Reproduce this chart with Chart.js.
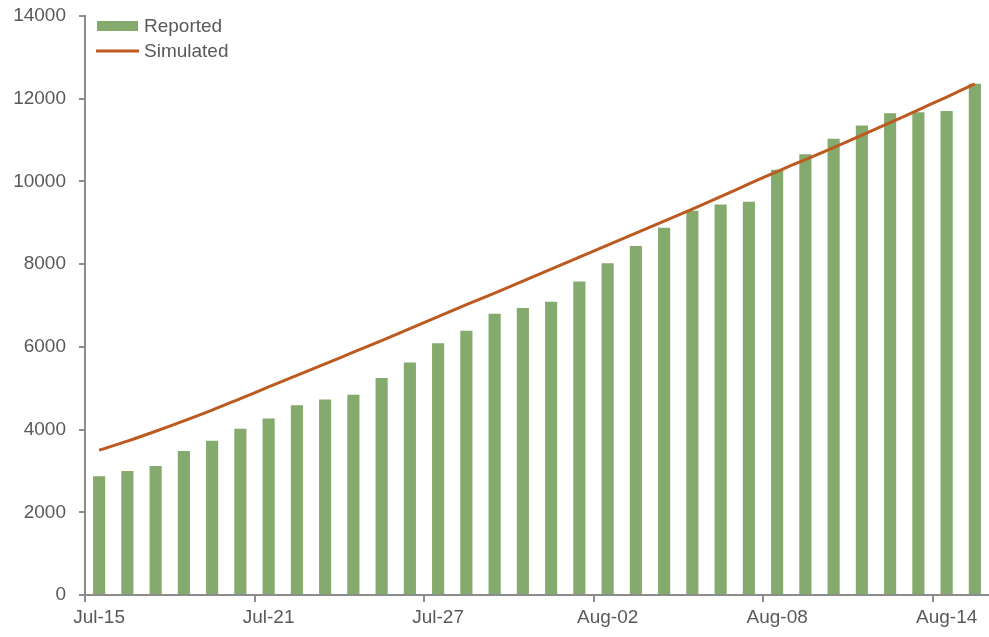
<!DOCTYPE html>
<html>
<head>
<meta charset="utf-8">
<script src="https://cdn.jsdelivr.net/npm/chart.js@4"></script>
<style>
  html, body { margin: 0; padding: 0; background: #fff; }
  #wrap { width: 989px; height: 637px; }
</style>
</head>
<body>
<div id="wrap"><canvas id="chart"></canvas></div>
<script>
const days = [
  'Jul-15', 'Jul-16', 'Jul-17', 'Jul-18', 'Jul-19', 'Jul-20', 'Jul-21', 'Jul-22',
  'Jul-23', 'Jul-24', 'Jul-25', 'Jul-26', 'Jul-27', 'Jul-28', 'Jul-29', 'Jul-30',
  'Jul-31', 'Aug-01', 'Aug-02', 'Aug-03', 'Aug-04', 'Aug-05', 'Aug-06', 'Aug-07',
  'Aug-08', 'Aug-09', 'Aug-10', 'Aug-11', 'Aug-12', 'Aug-13', 'Aug-14', 'Aug-15'
];
const reported = [
  2870, 3000, 3120, 3480, 3730, 4020, 4270, 4590, 4730, 4840, 5250, 5620, 6090, 6390, 6800, 6940,
  7090, 7580, 8020, 8440, 8880, 9290, 9440, 9510, 10280, 10660, 11030, 11350, 11650, 11670, 11700, 12360
];
const simulated = [
  3500, 3720, 3960, 4210, 4470, 4750, 5030, 5310, 5590, 5870, 6150, 6440, 6730, 7020, 7300, 7590,
  7880, 8170, 8460, 8750, 9040, 9330, 9630, 9940, 10240, 10530, 10820, 11120, 11420, 11730, 12040, 12360
];
const yTicks = [0, 2000, 4000, 6000, 8000, 10000, 12000, 14000];

const textColor = '#595959';
const axisColor = '#8c8c8c';
const font = { family: 'Liberation Sans, Arial, sans-serif', size: 19 };

// legend drawn inside the plot, top left
const insideLegend = {
  id: 'insideLegend',
  afterDraw(chart) {
    const c = chart.ctx;
    const x = chart.chartArea.left + 12;
    c.save();
    c.font = font.size + 'px ' + font.family;
    c.textBaseline = 'middle';
    chart.data.datasets.forEach((ds, i) => {
      const y = 26 + i * 25;
      if (ds.type === 'line') {
        c.strokeStyle = ds.borderColor;
        c.lineWidth = 3;
        c.beginPath();
        c.moveTo(x - 1, y);
        c.lineTo(x + 42, y);
        c.stroke();
      } else {
        c.fillStyle = ds.backgroundColor;
        c.fillRect(x, y - 5, 41, 10);
      }
      c.fillStyle = textColor;
      c.fillText(ds.label, x + 47, y + 1);
    });
    c.restore();
  }
};

new Chart(document.getElementById('chart'), {
  data: {
    labels: days,
    datasets: [
      {
        type: 'bar',
        label: 'Reported',
        data: reported,
        backgroundColor: '#84aa6d',
        barPercentage: 0.43,
        categoryPercentage: 1,
        order: 1
      },
      {
        type: 'line',
        label: 'Simulated',
        data: simulated,
        borderColor: '#bd5a1f',
        borderWidth: 3,
        pointRadius: 0,
        tension: 0.3,
        order: 0
      }
    ]
  },
  options: {
    responsive: true,
    maintainAspectRatio: false,
    animation: false,
    layout: { padding: { top: 16, right: 0, left: 0, bottom: 0 } },
    plugins: { legend: { display: false }, tooltip: { enabled: false } },
    scales: {
      x: {
        grid: {
          offset: true,
          drawOnChartArea: false,
          drawTicks: true,
          tickLength: 7,
          color: ctx => (ctx.index % 6 === 0 ? axisColor : 'rgba(0,0,0,0)'),
          lineWidth: 2
        },
        border: { display: true, color: axisColor, width: 2 },
        ticks: {
          autoSkip: false,
          maxRotation: 0,
          color: textColor,
          font: font,
          padding: 4,
          callback: (v, i) => (i % 6 === 0 ? days[i] : '')
        },
        afterFit: s => { s.height = 42; s.paddingLeft = 0; s.paddingRight = 0; }
      },
      y: {
        min: 0,
        max: 14000,
        afterBuildTicks: s => { s.ticks = yTicks.map(v => ({ value: v })); },
        grid: {
          drawOnChartArea: false,
          drawTicks: true,
          tickLength: 6,
          color: axisColor,
          lineWidth: 2
        },
        border: { display: true, color: axisColor, width: 2 },
        ticks: { color: textColor, font: font, padding: 13, callback: v => String(v) },
        afterFit: s => { s.width = 85; s.paddingTop = 0; s.paddingBottom = 0; }
      }
    }
  },
  plugins: [insideLegend]
});
</script>
</body>
</html>
